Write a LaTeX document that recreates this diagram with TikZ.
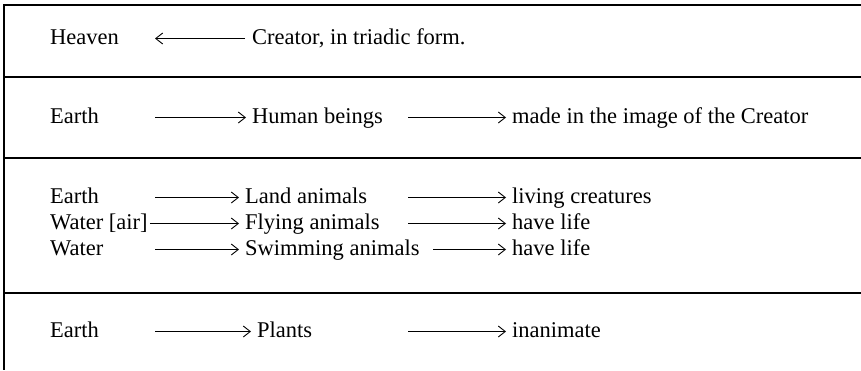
\documentclass[tikz,border=0pt]{standalone}
\usepackage{fontspec}
\setmainfont{Liberation Serif}
\usetikzlibrary{arrows.meta}

\begin{document}
\begin{tikzpicture}[x=1pt,y=-1pt,
	every node/.style={anchor=base west,inner sep=0pt,text height=16pt,text depth=5pt,font=\fontsize{22.5}{27}\selectfont},
	rule/.style={line width=2.8pt},
	link/.style={line width=0.9pt,-{Straight Barb[length=7pt,width=11pt]},shorten >=6pt}]
\useasboundingbox (0,0) rectangle (861,370);

\draw[rule] (861,5)--(4,5)--(4,370);
\foreach \y in {77,158,293}
	\draw[rule] (4,\y)--(861,\y);

\node (heaven) at (50,44) {Heaven};
\node (creator) at (252,44) {Creator, in triadic form.};
\node (earthA) at (50,123) {Earth};
\node (human) at (252,123) {Human beings};
\node (image) at (512,123) {made in the image of the Creator};
\node (earthB) at (50,203) {Earth};
\node (land) at (245,203) {Land animals};
\node (living) at (512,203) {living creatures};
\node (waterair) at (50,229) {Water [air]};
\node (flying) at (245,229) {Flying animals};
\node (lifeA) at (512,229) {have life};
\node (water) at (50,255) {Water};
\node (swim) at (245,255) {Swimming animals};
\node (lifeB) at (512,255) {have life};
\node (earthC) at (50,337) {Earth};
\node (plants) at (257,337) {Plants};
\node (inanimate) at (512,337) {inanimate};

\coordinate (c1) at (155,38.5);
\coordinate (c2) at (155,117.5);
\coordinate (c3) at (408,117.5);
\coordinate (c4) at (155,197.5);
\coordinate (c5) at (408,197.5);
\coordinate (c6) at (408,223.5);
\coordinate (c7) at (155,249.5);
\coordinate (c8) at (433,249.5);
\coordinate (c9) at (155,331.5);
\coordinate (c10) at (408,331.5);

\draw[link,shorten >=0pt,shorten <=7pt] (creator)--(c1);
\draw[link,shorten <=2pt] (waterair)--(flying);
\foreach \x/\y in {c2/human,c3/image,c4/land,c5/living,c6/lifeA,c7/swim,c8/lifeB,c9/plants,c10/inanimate}
	\draw[link] (\x)--(\y);

\end{tikzpicture}
\end{document}
